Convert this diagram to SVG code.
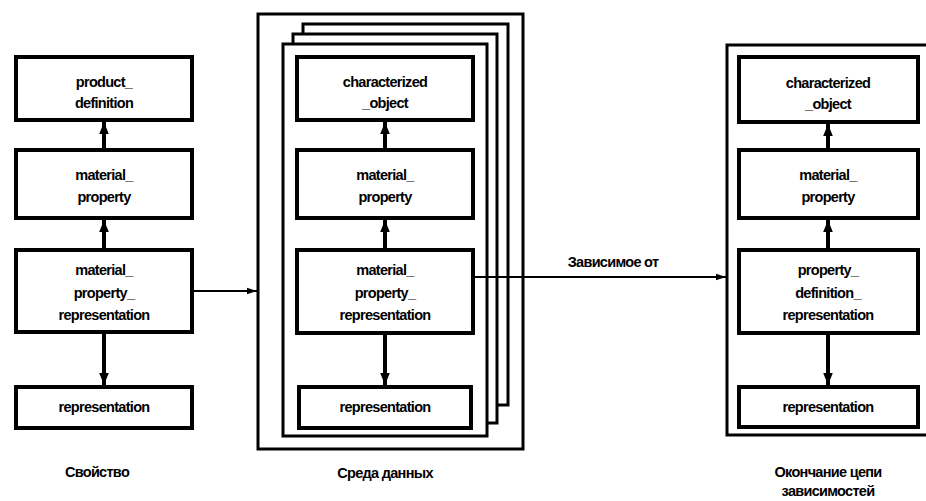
<svg xmlns="http://www.w3.org/2000/svg" width="926" height="501" viewBox="0 0 926 501">
<style>
.box{fill:#fff;stroke:#000;stroke-width:4}
.frame{fill:#fff;stroke:#000;stroke-width:3}
.t{font-family:"Liberation Sans",Arial,sans-serif;font-weight:bold;font-size:14.5px;text-anchor:middle;fill:#000;letter-spacing:-0.7px}
.v{stroke:#000;stroke-width:4;fill:none}
.h{stroke:#000;stroke-width:2;fill:none}
</style>
<defs>
<marker id="ah" viewBox="0 0 10 10" refX="10" refY="5" markerWidth="3" markerHeight="2.4" orient="auto" markerUnits="strokeWidth" preserveAspectRatio="none">
<path d="M0,0 L10,5 L0,10 z" fill="#000"/>
</marker>
<marker id="ahh" viewBox="0 0 10 10" refX="10" refY="5" markerWidth="5" markerHeight="4" orient="auto" markerUnits="strokeWidth" preserveAspectRatio="none">
<path d="M0,1 L10,5 L0,9 z" fill="#000"/>
</marker>
</defs>
<rect width="926" height="501" fill="#fff"/>
<g id="frame-data">
<rect class="frame" x="258" y="14" width="265" height="435"/>
<rect class="frame" x="303" y="24" width="205" height="381"/>
<rect class="frame" x="293" y="34" width="204" height="389"/>
<rect class="frame" x="283" y="44" width="204" height="392"/>
</g>
<g id="frame-end">
<rect class="frame" x="727" y="45" width="210" height="390"/>
</g>
<g id="connectors">
<line class="v" x1="104" y1="150" x2="104" y2="122" marker-end="url(#ah)"/>
<line class="v" x1="104" y1="250" x2="104" y2="220" marker-end="url(#ah)"/>
<line class="v" x1="104" y1="332" x2="104" y2="385" marker-end="url(#ah)"/>
<line class="v" x1="385" y1="150" x2="385" y2="122" marker-end="url(#ah)"/>
<line class="v" x1="385" y1="250" x2="385" y2="220" marker-end="url(#ah)"/>
<line class="v" x1="385" y1="333" x2="385" y2="385" marker-end="url(#ah)"/>
<line class="v" x1="828" y1="150" x2="828" y2="124" marker-end="url(#ah)"/>
<line class="v" x1="828" y1="250" x2="828" y2="220" marker-end="url(#ah)"/>
<line class="v" x1="828" y1="333" x2="828" y2="385" marker-end="url(#ah)"/>
<line class="h" x1="192" y1="291" x2="257" y2="291" marker-end="url(#ahh)"/>
<line class="h" x1="473" y1="277" x2="726" y2="277" marker-end="url(#ahh)"/>
</g>
<g id="l1"><rect class="box" x="16" y="57" width="176" height="63"/><text class="t" x="104" y="87">product_</text><text class="t" x="104" y="108">definition</text></g>
<g id="l2"><rect class="box" x="16" y="150" width="176" height="68"/><text class="t" x="104" y="180">material_</text><text class="t" x="104" y="202">property</text></g>
<g id="l3"><rect class="box" x="16" y="250" width="176" height="82"/><text class="t" x="104" y="275">material_</text><text class="t" x="104" y="298">property_</text><text class="t" x="104" y="320">representation</text></g>
<g id="l4"><rect class="box" x="16" y="387" width="176" height="41"/><text class="t" x="104" y="412">representation</text></g>
<g id="m1"><rect class="box" x="297" y="57" width="176" height="63"/><text class="t" x="385" y="87">characterized</text><text class="t" x="385" y="108">_object</text></g>
<g id="m2"><rect class="box" x="297" y="150" width="176" height="68"/><text class="t" x="385" y="180">material_</text><text class="t" x="385" y="202">property</text></g>
<g id="m3"><rect class="box" x="297" y="250" width="176" height="83"/><text class="t" x="385" y="275">material_</text><text class="t" x="385" y="298">property_</text><text class="t" x="385" y="320">representation</text></g>
<g id="m4"><rect class="box" x="299" y="387" width="172" height="41"/><text class="t" x="385" y="412">representation</text></g>
<g id="r1"><rect class="box" x="739" y="57" width="179" height="65"/><text class="t" x="828" y="88">characterized</text><text class="t" x="828" y="109">_object</text></g>
<g id="r2"><rect class="box" x="739" y="150" width="179" height="68"/><text class="t" x="828" y="180">material_</text><text class="t" x="828" y="202">property</text></g>
<g id="r3"><rect class="box" x="739" y="250" width="179" height="83"/><text class="t" x="828" y="275">property_</text><text class="t" x="828" y="298">definition_</text><text class="t" x="828" y="320">representation</text></g>
<g id="r4"><rect class="box" x="739" y="387" width="179" height="40"/><text class="t" x="828" y="412">representation</text></g>
<g id="labels">
<text class="t" x="613" y="267">Зависимое от</text>
<text class="t" x="97" y="477">Свойство</text>
<text class="t" x="385" y="478">Среда данных</text>
<text class="t" x="828" y="477">Окончание цепи</text>
<text class="t" x="828" y="496">зависимостей</text>
</g>
</svg>
